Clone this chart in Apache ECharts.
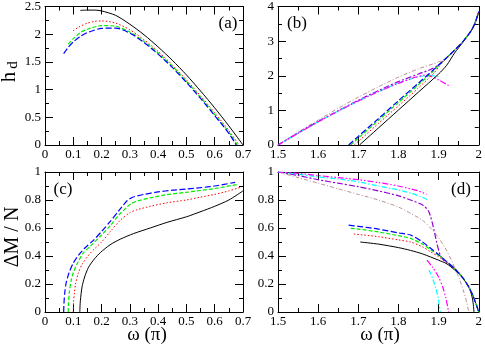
<!DOCTYPE html>
<html><head><meta charset="utf-8">
<script src="https://cdn.jsdelivr.net/npm/echarts@6/dist/echarts.min.js"></script>
<style>html,body{margin:0;padding:0;background:#fff}#c{width:485px;height:346px}</style>
</head><body><div id="c"></div>
<script>
// ---------- axis ranges [min, max, interval] ----------
const xRangeLeft = [0, 0.7, 0.1];
const xRangeRight = [1.5, 2, 0.1];
const yRangeA = [0, 2.5, 0.5];
const yRangeB = [0, 4, 1];
const yRangeCD = [0, 1, 0.2];
const panelLabels = ['(a)', '(b)', '(c)', '(d)'];
const yTitleTop = ['h', 'd'];
const yTitleBottom = 'ΔM / N';
const xTitle = 'ω (π)';

// ---------- panel (a): h_d vs omega ----------
const aBlack = [[0.125,2.43],[0.15,2.435],[0.175,2.435],[0.2,2.42],[0.25,2.34],[0.3,2.18],[0.35,1.99],[0.4,1.77],[0.45,1.53],[0.5,1.265],[0.55,0.975],[0.6,0.67],[0.65,0.345],[0.7,0.0]];
const aRed = [[0.099,2.06],[0.12,2.13],[0.15,2.2],[0.175,2.23],[0.2,2.24],[0.25,2.2],[0.3,2.08],[0.35,1.9],[0.4,1.69],[0.45,1.445],[0.5,1.175],[0.55,0.885],[0.6,0.58],[0.65,0.26],[0.686,0.0]];
const aGreen = [[0.082,1.82],[0.1,1.92],[0.125,2.03],[0.15,2.09],[0.2,2.155],[0.25,2.145],[0.3,2.04],[0.35,1.87],[0.4,1.66],[0.45,1.42],[0.5,1.15],[0.55,0.86],[0.6,0.55],[0.65,0.23],[0.68,0.0]];
const aBlue = [[0.066,1.65],[0.08,1.75],[0.1,1.86],[0.125,1.96],[0.15,2.03],[0.2,2.105],[0.25,2.11],[0.3,2.02],[0.35,1.85],[0.4,1.64],[0.45,1.4],[0.5,1.13],[0.55,0.84],[0.6,0.53],[0.65,0.21],[0.676,0.0]];

// ---------- panel (b) ----------
const bMain = [[1.92,2.52],[1.94,2.74],[1.96,2.98],[1.98,3.28],[1.99,3.5],[2.0,3.85]];
const bBlack = [[1.703,0],[1.75,0.49],[1.8,1.01],[1.85,1.53],[1.9,2.05],[1.92,2.3],[1.94,2.66],[1.96,2.96]];
const bRed = [[1.69,0],[1.75,0.62],[1.8,1.13],[1.85,1.65],[1.89,2.1],[1.9,2.25]];
const bGreen = [[1.681,0],[1.7,0.2],[1.75,0.71],[1.8,1.23],[1.85,1.74],[1.89,2.17],[1.9,2.3]];
const bBlue = [[1.676,0],[1.7,0.25],[1.75,0.76],[1.8,1.28],[1.85,1.79],[1.884,2.14],[1.9,2.31]];
const bMagenta = [[1.5,0],[1.55,0.34],[1.6,0.67],[1.65,0.98],[1.7,1.27],[1.75,1.54],[1.8,1.78],[1.84,1.95],[1.865,2.02],[1.88,1.99],[1.9,1.88],[1.925,1.72]];
const bCyan = [[1.5,0],[1.55,0.34],[1.6,0.67],[1.65,0.98],[1.7,1.27],[1.75,1.54],[1.8,1.79],[1.85,1.97],[1.875,2.01],[1.904,1.96]];
const bViolet = [[1.5,0],[1.55,0.35],[1.6,0.68],[1.65,0.99],[1.7,1.29],[1.75,1.57],[1.8,1.83],[1.85,2.05],[1.88,2.18],[1.9,2.31]];
const bBrown = [[1.5,0],[1.55,0.37],[1.6,0.72],[1.65,1.06],[1.7,1.38],[1.75,1.68],[1.8,1.96],[1.85,2.2],[1.9,2.4]];

// ---------- panel (c) ----------
const cBlack = [[0.123,0],[0.125,0.08],[0.131,0.18],[0.14,0.25],[0.154,0.32],[0.175,0.38],[0.196,0.425],[0.23,0.48],[0.266,0.52],[0.313,0.56],[0.372,0.6],[0.431,0.64],[0.5,0.68],[0.548,0.715],[0.6,0.755],[0.65,0.8],[0.7,0.865]];
const cRed = [[0.1,0],[0.101,0.07],[0.104,0.14],[0.108,0.2],[0.118,0.28],[0.131,0.34],[0.16,0.42],[0.2,0.5],[0.231,0.575],[0.266,0.655],[0.3,0.71],[0.325,0.73],[0.372,0.755],[0.431,0.78],[0.5,0.8],[0.548,0.82],[0.6,0.84],[0.65,0.865],[0.69,0.89]];
const cGreen = [[0.082,0],[0.083,0.06],[0.086,0.14],[0.092,0.22],[0.1,0.28],[0.115,0.35],[0.135,0.42],[0.16,0.47],[0.2,0.55],[0.23,0.615],[0.26,0.69],[0.29,0.75],[0.305,0.775],[0.33,0.795],[0.372,0.815],[0.431,0.838],[0.5,0.855],[0.548,0.868],[0.6,0.882],[0.678,0.91]];
const cBlue = [[0.066,0],[0.067,0.06],[0.07,0.14],[0.075,0.21],[0.085,0.28],[0.1,0.35],[0.12,0.41],[0.14,0.455],[0.17,0.51],[0.2,0.575],[0.23,0.645],[0.26,0.72],[0.29,0.795],[0.31,0.82],[0.35,0.84],[0.4,0.858],[0.45,0.87],[0.5,0.878],[0.55,0.888],[0.6,0.9],[0.672,0.926]];

// ---------- panel (d) ----------
const dMain = [[1.94,0.31],[1.96,0.245],[1.975,0.18],[1.985,0.12],[1.993,0.06],[2.0,0.0]];
const dBlack = [[1.705,0.5],[1.75,0.485],[1.8,0.46],[1.83,0.44],[1.86,0.415],[1.9,0.37],[1.92,0.345],[1.94,0.3],[1.955,0.26],[1.966,0.22],[1.978,0.16],[1.984,0.1],[1.987,0.04],[1.988,0.0]];
const dRed = [[1.689,0.557],[1.75,0.538],[1.8,0.515],[1.83,0.5],[1.86,0.465],[1.88,0.43],[1.9,0.395],[1.92,0.355]];
const dGreen = [[1.681,0.598],[1.7,0.592],[1.75,0.572],[1.8,0.545],[1.83,0.526],[1.86,0.485],[1.88,0.445],[1.9,0.405],[1.92,0.36]];
const dBlue = [[1.676,0.62],[1.7,0.612],[1.75,0.592],[1.8,0.565],[1.83,0.55],[1.86,0.5],[1.88,0.455],[1.9,0.41],[1.92,0.36]];
const dMagenta = [[1.5,1.0],[1.55,0.99],[1.6,0.975],[1.65,0.96],[1.7,0.945],[1.75,0.925],[1.8,0.9],[1.83,0.88],[1.85,0.865],[1.87,0.84]];
const dMagentaLow = [[1.871,0.37],[1.885,0.32],[1.9,0.25],[1.91,0.18],[1.918,0.1],[1.925,0.0]];
const dCyan = [[1.5,1.0],[1.55,0.985],[1.6,0.965],[1.65,0.95],[1.7,0.93],[1.75,0.9],[1.8,0.872],[1.83,0.85],[1.855,0.825],[1.874,0.8]];
const dCyanLow = [[1.876,0.3],[1.885,0.24],[1.893,0.17],[1.899,0.1],[1.904,0.0]];
const dViolet = [[1.5,1.0],[1.55,0.975],[1.6,0.945],[1.65,0.92],[1.7,0.895],[1.75,0.865],[1.8,0.83],[1.83,0.8],[1.86,0.765],[1.875,0.72],[1.885,0.63],[1.895,0.5],[1.905,0.4],[1.92,0.35]];
const dBrown = [[1.5,1.0],[1.55,0.96],[1.6,0.92],[1.65,0.88],[1.7,0.84],[1.75,0.8],[1.8,0.75],[1.83,0.705],[1.86,0.655],[1.88,0.6],[1.9,0.53],[1.92,0.44],[1.935,0.35],[1.95,0.25],[1.962,0.15],[1.97,0.07],[1.975,0.0]];

// ---------- styles ----------
const ST = {
  black:   {color:'#000000', width:1, type:'solid'},
  red:     {color:'#ff0000', width:1, type:[1.5,2]},
  green:   {color:'#00ee00', width:1.2, type:[4,2]},
  blue:    {color:'#0000ff', width:1.2, type:[6,2.5]},
  magenta: {color:'#ff00ff', width:1.2, type:[6,2,1.5,2,1.5,2]},
  cyan:    {color:'#00ffff', width:1.2, type:[5,2,1.5,2]},
  violet:  {color:'#9400d3', width:1.2, type:[6,2,2,2]},
  brown:   {color:'#bc8f8f', width:1, type:[4,2,1,2]}
};

const FONT = 'Liberation Serif';
const grids = [
  {left:45, top:6, width:198, height:139},
  {left:278, top:6, width:203, height:139},
  {left:45, top:172, width:198, height:140},
  {left:278, top:172, width:203, height:140}
];
const xr = [xRangeLeft, xRangeRight, xRangeLeft, xRangeRight];
const yr = [yRangeA, yRangeB, yRangeCD, yRangeCD];

function axisBase(r, gi, pos, labels){
  return {
    type:'value', gridIndex:gi, position:pos, min:r[0], max:r[1], interval:r[2],
    axisLine:{show:true, onZero:false, lineStyle:{color:'#000', width:1}},
    axisTick:{show:true, inside:true, length:8, lineStyle:{color:'#000', width:1}},
    minorTick:{show:true, splitNumber:2, length:4, lineStyle:{color:'#000', width:1}},
    splitLine:{show:false},
    axisLabel:{show:labels, color:'#000', fontFamily:FONT, fontSize:13, margin: pos==='bottom'?3:4,
      formatter: v => String(Math.round(v*1000)/1000)}
  };
}
const xAxis = [], yAxis = [];
for (let i=0;i<4;i++) xAxis.push(axisBase(xr[i], i, 'bottom', true));
for (let i=0;i<4;i++) xAxis.push(axisBase(xr[i], i, 'top', false));
for (let i=0;i<4;i++) yAxis.push(axisBase(yr[i], i, 'left', true));
for (let i=0;i<4;i++) yAxis.push(axisBase(yr[i], i, 'right', false));

function ln(gi, data, st){
  return {type:'line', xAxisIndex:gi, yAxisIndex:gi, data:data, symbol:'none', showSymbol:false,
    smooth:0.25, silent:true, animation:false,
    lineStyle:{color:st.color, width:st.width, type:st.type}};
}
const series = [
  ln(0,aBlack,ST.black), ln(0,aRed,ST.red), ln(0,aGreen,ST.green), ln(0,aBlue,ST.blue),
  ln(1,bBrown.concat(bMain),ST.brown), ln(1,bViolet.concat(bMain),ST.violet),
  ln(1,bCyan,ST.cyan), ln(1,bMagenta,ST.magenta),
  ln(1,bBlack.concat(bMain.slice(3)),ST.black), ln(1,bRed.concat(bMain),ST.red),
  ln(1,bGreen.concat(bMain),ST.green), ln(1,bBlue.concat(bMain),ST.blue),
  ln(2,cBlack,ST.black), ln(2,cRed,ST.red), ln(2,cGreen,ST.green), ln(2,cBlue,ST.blue),
  ln(3,dBrown,ST.brown), ln(3,dViolet.concat(dMain),ST.violet),
  ln(3,dCyan,ST.cyan), ln(3,dCyanLow,ST.cyan), ln(3,dMagenta,ST.magenta), ln(3,dMagentaLow,ST.magenta),
  ln(3,dBlack,ST.black), ln(3,dRed.concat(dMain),ST.red),
  ln(3,dGreen.concat(dMain),ST.green), ln(3,dBlue.concat(dMain),ST.blue)
];

function txt(x, y, s, size, rot){
  return {type:'text', x:x, y:y, rotation: rot||0, silent:true,
    style:{text:s, fill:'#000', font: size+'px "'+FONT+'"', textAlign:'center', textVerticalAlign:'middle'}};
}
const graphic = [
  txt(228, 24, panelLabels[0], 17),
  txt(297, 24, panelLabels[1], 17),
  txt(63, 190, panelLabels[2], 17),
  txt(461, 190, panelLabels[3], 17),
  txt(9, 77, yTitleTop[0], 21, Math.PI/2),
  txt(13, 65, yTitleTop[1], 15, Math.PI/2),
  txt(13, 237, yTitleBottom, 20, Math.PI/2),
  txt(147, 335, xTitle, 19),
  txt(380, 335, xTitle, 19)
];

const chart = echarts.init(document.getElementById('c'), null, {renderer:'canvas'});
chart.setOption({animation:false, backgroundColor:'#fff', grid:grids, xAxis:xAxis, yAxis:yAxis, series:series, graphic:graphic});
</script></body></html>
